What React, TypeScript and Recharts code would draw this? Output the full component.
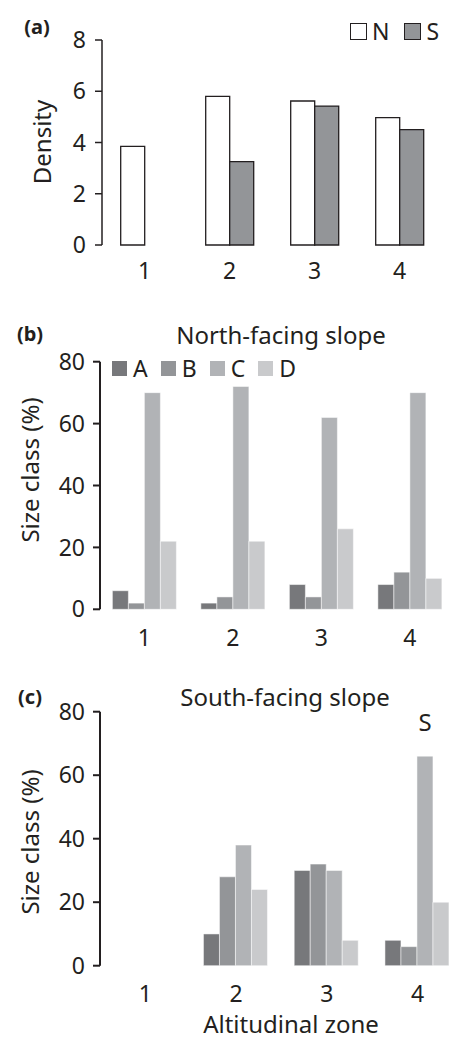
import { BarChart, Bar, XAxis, YAxis, Legend } from "recharts";

const zones = ["1", "2", "3", "4"];
const zoneEdges = [0, 1, 2, 3, 4];

// (a) density by aspect
const densityNorth = [3.85, 5.8, 5.62, 4.97];
const densitySouth = [null, 3.25, 5.42, 4.5];
const densityTicks = [0, 2, 4, 6, 8];

// (b) north-facing slope, size class %
const northA = [6, 2, 8, 8];
const northB = [2, 4, 4, 12];
const northC = [70, 72, 62, 70];
const northD = [22, 22, 26, 10];

// (c) south-facing slope, size class %
const southA = [0, 10, 30, 8];
const southB = [0, 28, 32, 6];
const southC = [0, 38, 30, 66];
const southD = [0, 24, 8, 20];
const pctTicks = [0, 20, 40, 60, 80];

const classes = ["A", "B", "C", "D"];
const classColors = ["#77787b", "#939598", "#b1b3b6", "#c9cacc"];

const FONT = '"Noto Sans", sans-serif';
const INK = "#231f20";
const TICK = 23;

function Txt({ x, y, size = 24, bold = false, rotate = false, children }: any) {
  return (
    <div
      style={{
        position: "absolute",
        left: x,
        top: y,
        transform: `translate(-50%, -50%)${rotate ? " rotate(-90deg)" : ""}`,
        fontSize: size,
        fontWeight: bold ? 700 : 400,
        lineHeight: 1,
        whiteSpace: "nowrap",
        color: INK,
      }}
    >
      {children}
    </div>
  );
}

function KeyRow({ items, box, border, gapText, gapItem }: any) {
  return (
    <div style={{ display: "flex", alignItems: "center", fontFamily: FONT, fontSize: 23, lineHeight: 1, color: INK }}>
      {items.map((it: any) => (
        <div key={it.name} style={{ display: "flex", alignItems: "center", marginRight: gapItem }}>
          <span
            style={{
              display: "inline-block",
              width: box,
              height: box,
              boxSizing: "border-box",
              background: it.color,
              border: border ? `1.3px solid ${INK}` : "none",
              marginRight: gapText,
            }}
          />
          <span>{it.name}</span>
        </div>
      ))}
    </div>
  );
}

function SizePanel({ top, height, margin, values, legend }: any) {
  const data = zones.map((z, i) => ({ zone: z, A: values[0][i], B: values[1][i], C: values[2][i], D: values[3][i] }));
  return (
    <div style={{ position: "absolute", left: 0, top }}>
      <BarChart width={463} height={height} data={data} margin={margin} barCategoryGap="14%" barGap={0}>
        <XAxis
          xAxisId="edge"
          type="number"
          domain={[0, 4]}
          ticks={zoneEdges}
          allowDataOverflow
          height={0}
          axisLine={{ stroke: INK, strokeWidth: 2 }}
          tickLine={{ stroke: INK, strokeWidth: 2 }}
          tickSize={8}
          tickFormatter={() => ""}
        />
        <XAxis
          xAxisId="cat"
          dataKey="zone"
          height={30}
          axisLine={false}
          tickLine={false}
          tickMargin={14}
          tick={{ fontSize: TICK, fill: INK, fontFamily: FONT }}
        />
        <YAxis
          width={100}
          domain={[0, 80]}
          ticks={pctTicks}
          axisLine={{ stroke: INK, strokeWidth: 2 }}
          tickLine={{ stroke: INK, strokeWidth: 2 }}
          tickSize={7}
          tickMargin={8}
          tick={{ fontSize: TICK, fill: INK, fontFamily: FONT }}
        />
        {legend}
        {classes.map((c, i) => (
          <Bar key={c} xAxisId="cat" dataKey={c} fill={classColors[i]} stroke="#ffffff" strokeWidth={0.5} isAnimationActive={false} />
        ))}
      </BarChart>
    </div>
  );
}

export default function App() {
  const densityData = zones.map((z, i) => ({ zone: z, N: densityNorth[i], S: densitySouth[i] }));
  const classKey = classes.map((c, i) => ({ name: c, color: classColors[i] }));

  return (
    <div style={{ position: "absolute", left: 0, top: 0, width: 463, height: 1041, background: "#fff", fontFamily: FONT }}>
      {/* (a) */}
      <div style={{ position: "absolute", left: 0, top: 0 }}>
        <BarChart width={463} height={300} data={densityData} margin={{ top: 40, right: 21, left: 2, bottom: 25 }} barCategoryGap="22%" barGap={0}>
          <XAxis
            xAxisId="edge"
            type="number"
            domain={[0, 4]}
            ticks={zoneEdges}
            allowDataOverflow
            height={0}
            axisLine={{ stroke: INK, strokeWidth: 1.5 }}
            tickLine={{ stroke: INK, strokeWidth: 1.5 }}
            tickSize={8}
            tickFormatter={() => ""}
          />
          <XAxis
            xAxisId="cat"
            dataKey="zone"
            height={30}
            axisLine={false}
            tickLine={false}
            tickMargin={12}
            tick={{ fontSize: TICK, fill: INK, fontFamily: FONT }}
          />
          <YAxis
            width={100}
            domain={[0, 8]}
            ticks={densityTicks}
            axisLine={{ stroke: INK, strokeWidth: 1.5 }}
            tickLine={{ stroke: INK, strokeWidth: 1.5 }}
            tickSize={7}
            tickMargin={9}
            tick={{ fontSize: TICK, fill: INK, fontFamily: FONT }}
          />
          <Legend
            layout="horizontal"
            verticalAlign="middle"
            align="center"
            wrapperStyle={{ top: 20, left: 350, width: "auto", height: "auto" }}
            content={() => (
              <KeyRow
                items={[
                  { name: "N", color: "#ffffff" },
                  { name: "S", color: "#939598" },
                ]}
                box={17}
                border
                gapText={5}
                gapItem={15}
              />
            )}
          />
          <Bar xAxisId="cat" dataKey="N" fill="#ffffff" stroke={INK} strokeWidth={1.3} isAnimationActive={false} />
          <Bar xAxisId="cat" dataKey="S" fill="#939598" stroke={INK} strokeWidth={1.3} isAnimationActive={false} />
        </BarChart>
      </div>
      <Txt x={37} y={27} size={20} bold>(a)</Txt>
      <Txt x={42} y={142} rotate>Density</Txt>

      {/* (b) */}
      <SizePanel
        top={330}
        height={330}
        margin={{ top: 31.7, right: 9, left: 0, bottom: 20.7 }}
        values={[northA, northB, northC, northD]}
        legend={
          <Legend
            layout="horizontal"
            verticalAlign="middle"
            align="center"
            wrapperStyle={{ top: 27, left: 112, width: "auto", height: "auto" }}
            content={() => <KeyRow items={classKey} box={15} gapText={6} gapItem={13} />}
          />
        }
      />
      <Txt x={30} y={334} size={20} bold>(b)</Txt>
      <Txt x={281} y={335}>North-facing slope</Txt>
      <Txt x={30} y={470} rotate>Size class (%)</Txt>

      {/* (c) */}
      <SizePanel
        top={690}
        height={351}
        margin={{ top: 21.7, right: 0, left: 0, bottom: 45.3 }}
        values={[southA, southB, southC, southD]}
      />
      <Txt x={30} y={697} size={20} bold>(c)</Txt>
      <Txt x={285} y={697}>South-facing slope</Txt>
      <Txt x={425} y={722}>S</Txt>
      <Txt x={30} y={842} rotate>Size class (%)</Txt>
      <Txt x={291} y={1024}>Altitudinal zone</Txt>
    </div>
  );
}
